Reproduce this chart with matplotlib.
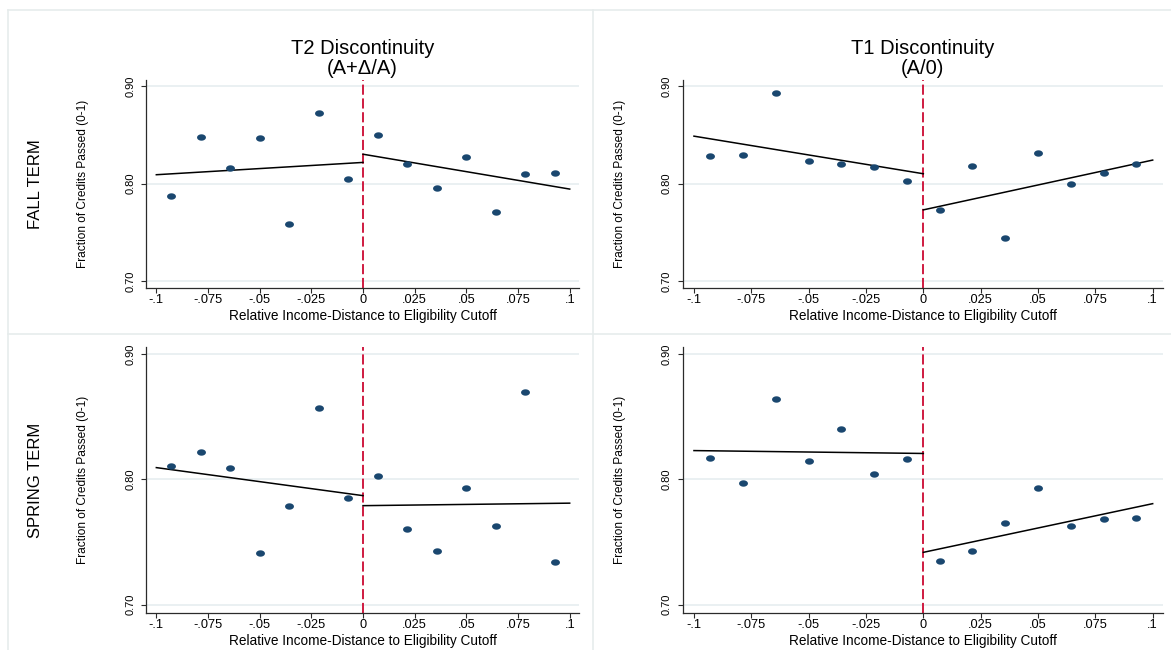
import numpy as np
import matplotlib

matplotlib.use("Agg")
import matplotlib.pyplot as plt
from matplotlib.path import Path
from matplotlib.lines import Line2D

# bin centres of the relative income distance (14 bins)
BIN_X = [-0.0929, -0.0786, -0.0643, -0.05, -0.0357, -0.0214, -0.0071,
         0.0071, 0.0214, 0.0357, 0.05, 0.0643, 0.0786, 0.0929]

FALL_T2 = [0.787, 0.848, 0.816, 0.847, 0.759, 0.872, 0.805,
           0.850, 0.820, 0.795, 0.827, 0.771, 0.810, 0.811]
FALL_T1 = [0.828, 0.8295, 0.893, 0.8226, 0.8202, 0.8164, 0.803,
           0.773, 0.818, 0.744, 0.831, 0.799, 0.8105, 0.820]
SPRING_T2 = [0.811, 0.822, 0.809, 0.7415, 0.779, 0.857, 0.785,
             0.803, 0.760, 0.743, 0.793, 0.7625, 0.870, 0.734]
SPRING_T1 = [0.817, 0.797, 0.864, 0.815, 0.8405, 0.804, 0.816,
             0.735, 0.743, 0.765, 0.793, 0.7625, 0.768, 0.769]

# linear fits either side of the cutoff: (x, y) endpoints
FIT_LEFT_X = [-0.1, 0.0]
FIT_RIGHT_X = [0.0, 0.1]
FALL_T2_FIT_L = [0.809, 0.8216]
FALL_T2_FIT_R = [0.830, 0.7943]
FALL_T1_FIT_L = [0.8485, 0.810]
FALL_T1_FIT_R = [0.773, 0.824]
SPRING_T2_FIT_L = [0.8094, 0.787]
SPRING_T2_FIT_R = [0.779, 0.781]
SPRING_T1_FIT_L = [0.823, 0.8207]
SPRING_T1_FIT_R = [0.7417, 0.7806]

X_TICKS = [-0.1, -0.075, -0.05, -0.025, 0, 0.025, 0.05, 0.075, 0.1]
X_TICK_LABELS = ["-.1", "-.075", "-.05", "-.025", "0", ".025", ".05", ".075", ".1"]
Y_TICKS = [0.70, 0.80, 0.90]
Y_TICK_LABELS = ["0.70", "0.80", "0.90"]

TITLES = [("T2 Discontinuity", "(A+\u0394/A)"), ("T1 Discontinuity", "(A/0)")]
ROW_LABELS = ["FALL TERM", "SPRING TERM"]
XLABEL = "Relative Income-Distance to Eligibility Cutoff"
YLABEL = "Fraction of Credits Passed (0-1)"

NAVY = "#1a476f"
RED = "#cf1a40"
GRID = "#e6eef0"
FRAME = "#e6ecec"

W, H = 1171, 650

plt.rcParams["font.family"] = ["Liberation Sans", "DejaVu Sans"]

# slightly flattened dot, like the stretched original
theta = np.linspace(0, 2 * np.pi, 41)
DOT = Path(np.column_stack([np.cos(theta), 0.72 * np.sin(theta)]), closed=True)

fig = plt.figure(figsize=(W / 100, H / 100), dpi=100)
fig.patch.set_facecolor("white")

# axes boxes in pixels: left, top, right, bottom
BOXES = [
    [(146, 80, 579, 288), (682.5, 80, 1163, 288)],
    [(146, 346.7, 579, 613.3), (682.5, 346.7, 1163, 613.3)],
]
PANELS = [
    [(FALL_T2, FALL_T2_FIT_L, FALL_T2_FIT_R), (FALL_T1, FALL_T1_FIT_L, FALL_T1_FIT_R)],
    [(SPRING_T2, SPRING_T2_FIT_L, SPRING_T2_FIT_R), (SPRING_T1, SPRING_T1_FIT_L, SPRING_T1_FIT_R)],
]

# light outlines of the combined sub-graphs
for xs, ys in [([8, 8], [9.5, H]), ([593.3, 593.3], [9.5, H]),
               ([8, W], [9.5, 9.5]), ([8, W], [333.7, 333.7])]:
    fig.add_artist(Line2D([x / W for x in xs], [1 - y / H for y in ys],
                          color=FRAME, linewidth=1.2, transform=fig.transFigure))

for r in range(2):
    for c in range(2):
        l, t, rr, b = BOXES[r][c]
        wpx, hpx = rr - l, b - t
        ax = fig.add_axes([l / W, 1 - b / H, wpx / W, hpx / H])
        pts, fit_l, fit_r = PANELS[r][c]

        for yv in Y_TICKS:
            ax.axhline(yv, color=GRID, linewidth=1.2, zorder=0)
        ax.axvline(0, color=RED, linewidth=1.4, dashes=(5.2, 1.9), zorder=1)
        ax.plot(FIT_LEFT_X, fit_l, color="black", linewidth=1.1, zorder=2)
        ax.plot(FIT_RIGHT_X, fit_r, color="black", linewidth=1.1, zorder=2)
        ax.plot(BIN_X, pts, linestyle="none", marker=DOT, markersize=6.4,
                color=NAVY, markeredgewidth=0, zorder=3)

        ax.set_xlim(-0.105, 0.1045)
        ax.set_ylim(0.693, 0.906)
        ax.set_xticks(X_TICKS)
        ax.set_xticklabels(X_TICK_LABELS)
        ax.set_yticks(Y_TICKS)
        ax.set_yticklabels(Y_TICK_LABELS, rotation=90, va="center")

        for side in ("top", "right"):
            ax.spines[side].set_visible(False)
        for side in ("left", "bottom"):
            ax.spines[side].set_color("#2b2b2b")
            ax.spines[side].set_linewidth(0.9)
        ax.tick_params(axis="both", direction="out", length=3.6, width=0.8,
                       color="#2b2b2b", labelcolor="black")
        ax.tick_params(axis="x", labelsize=9.2, pad=0.6)
        ax.tick_params(axis="y", labelsize=8, pad=4)

        ax.set_xlabel(XLABEL, fontsize=9.8, va="center")
        ax.xaxis.set_label_coords(0.5, -27.5 / hpx)
        ax.set_ylabel(YLABEL, fontsize=8.6, va="center")
        ax.yaxis.set_label_coords(-63 / wpx, 0.5)

        if r == 0:
            line1, line2 = TITLES[c]
            ax.annotate(line1, xy=(0.5, 1), xycoords="axes fraction",
                        xytext=(0, 32 * 0.72), textcoords="offset points",
                        ha="center", va="center", fontsize=14.5)
            ax.annotate(line2, xy=(0.5, 1), xycoords="axes fraction",
                        xytext=(0, 11 * 0.72), textcoords="offset points",
                        ha="center", va="center", fontsize=14.5)

for label, yc in zip(ROW_LABELS, [184, 480]):
    fig.text(36 / W, 1 - yc / H, label, rotation=90, ha="center", va="center",
             fontsize=12)

fig.savefig("out.png", dpi=100)
